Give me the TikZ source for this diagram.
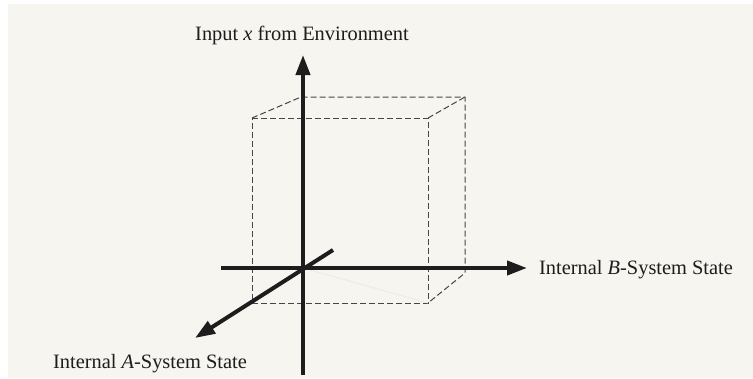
\documentclass[tikz,border=0pt]{standalone}
\usepackage{fontspec}
\setmainfont{Liberation Serif}
\usetikzlibrary{arrows.meta}
\definecolor{paperbeige}{RGB}{246,245,239}
\definecolor{axisblack}{RGB}{30,28,28}
\definecolor{edgegray}{RGB}{70,70,70}

\begin{document}
\begin{tikzpicture}[
    x=1pt, y=-1pt,
    axis/.style={line width=4pt, draw=axisblack},
    axisarrow/.style={axis, -{Triangle[length=20pt, width=14pt]}},
    hidden/.style={draw=edgegray, line width=1pt, dash pattern=on 6pt off 3pt},
    caption/.style={font=\fontsize{20.4}{24}\selectfont, text=axisblack, inner sep=0pt}
]

\useasboundingbox (0,0) rectangle (753,378);
\fill[paperbeige] (8,4) rectangle (753,378);

% axes
\coordinate (o) at (303,268);
\coordinate (xtip) at (303,55);
\coordinate (xend) at (303,375);
\coordinate (btip) at (527,268);
\coordinate (bend) at (221,268);
\coordinate (atip) at (195,338);
\coordinate (aend) at (333,250);

% cube
\coordinate (f1) at (252,118);
\coordinate (f2) at (428,118);
\coordinate (f3) at (428,303);
\coordinate (f4) at (252,303);
\coordinate (k1) at (301,97);
\coordinate (k2) at (465,97);
\coordinate (k3) at (465,273);

\draw[hidden] (f1) -- (f2) -- (f3) -- (f4) -- cycle;
\draw[hidden] (f1) -- (k1) -- (k2) -- (k3) -- (f3);
\draw[hidden] (f2) -- (k2);
\draw[draw=edgegray!12, line width=0.8pt] (o) -- (f3);

\draw[axis] (xend) -- (o);
\draw[axisarrow] (o) -- (xtip);
\draw[axisarrow] (bend) -- (btip);
\draw[axisarrow] (aend) -- (atip);

\node[caption, anchor=base] (xlab) at (302,40) {Input \textit{x} from Environment};
\node[caption, anchor=base west] (blab) at (539,274) {Internal \textit{B}-System State};
\node[caption, anchor=base] (alab) at (150,368) {Internal \textit{A}-System State};

\end{tikzpicture}
\end{document}
